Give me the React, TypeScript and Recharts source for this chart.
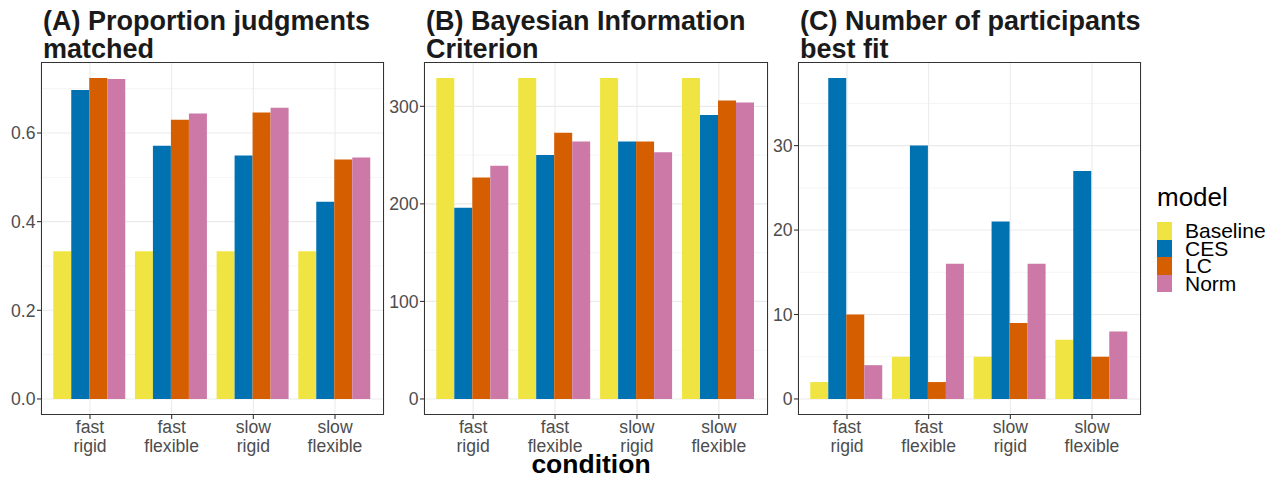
import React from 'react'
import { BarChart, Bar, XAxis, YAxis, CartesianGrid } from 'recharts'

const conditions = ['fast\nrigid', 'fast\nflexible', 'slow\nrigid', 'slow\nflexible']
const models = ['Baseline', 'CES', 'LC', 'Norm']
const modelColors = ['#F0E442', '#0072B2', '#D55E00', '#CC79A7']

// (A) proportion of judgments matched
const matchBaseline = [0.333, 0.333, 0.333, 0.333]
const matchCES = [0.697, 0.571, 0.549, 0.445]
const matchLC = [0.724, 0.63, 0.646, 0.54]
const matchNorm = [0.722, 0.644, 0.657, 0.545]
const matchTicks = [0, 0.2, 0.4, 0.6]
const matchMinor = [0.1, 0.3, 0.5, 0.7]

// (B) Bayesian information criterion
const bicBaseline = [329, 329, 329, 329]
const bicCES = [196, 250, 264, 291]
const bicLC = [227, 273, 264, 306]
const bicNorm = [239, 264, 253, 304]
const bicTicks = [0, 100, 200, 300]
const bicMinor = [50, 150, 250]

// (C) number of participants best fit
const fitBaseline = [2, 5, 5, 7]
const fitCES = [38, 30, 21, 27]
const fitLC = [10, 2, 9, 5]
const fitNorm = [4, 16, 16, 8]
const fitTicks = [0, 10, 20, 30]
const fitMinor = [5, 15, 25, 35]

const FONT = '"Liberation Sans", Arial, Helvetica, sans-serif'
const PLOT_TOP = 62
const PLOT_BOTTOM = 415
const H = 479

function toRows(series: number[][]) {
  return conditions.map((c, i) => {
    const row: Record<string, string | number> = { condition: c }
    models.forEach((m, j) => { row[m] = series[j][i] })
    return row
  })
}

function CondTick(props: any) {
  const { x, y, payload } = props
  const lines = String(payload.value).split('\n')
  return (
    <text x={x} y={y} textAnchor="middle" fill="#4D4D4D" fontSize={17.6} fontFamily={FONT}>
      {lines.map((l, i) => (
        <tspan key={i} x={x} dy={i === 0 ? 12 : 19}>{l}</tspan>
      ))}
    </text>
  )
}

interface PanelProps {
  left: number
  width: number
  plotLeft: number
  plotRight: number
  yWidth: number
  title: string[]
  series: number[][]
  ticks: number[]
  minor: number[]
  fmt: (v: number) => string
}

function Panel({ left, width, plotLeft, plotRight, yWidth, title, series, ticks, minor, fmt }: PanelProps) {
  const data = toRows(series)
  const max = Math.max(...series.flat())
  const plotW = plotRight - plotLeft
  const pad = (plotW * 0.1) / 4.2
  return (
    <>
      <div style={{ position: 'absolute', left: plotLeft + 2, top: 7, fontFamily: FONT, fontWeight: 'bold', fontSize: 27, lineHeight: '28px', color: '#1A1A1A', whiteSpace: 'nowrap' }}>
        {title.map((t, i) => <div key={i}>{t}</div>)}
      </div>
      <div style={{ position: 'absolute', left, top: 0 }}>
        <BarChart
          width={width}
          height={H}
          data={data}
          margin={{ top: PLOT_TOP, right: left + width - plotRight, bottom: H - PLOT_BOTTOM - 60, left: plotLeft - left - yWidth }}
          barCategoryGap="5%"
          barGap={0}
          style={{ fontFamily: FONT }}
        >
          <CartesianGrid stroke="#EBEBEB" strokeWidth={0.55} horizontalValues={minor} vertical={false} />
          <CartesianGrid stroke="#EBEBEB" strokeWidth={1.1} horizontalValues={ticks} />
          <XAxis
            dataKey="condition"
            interval={0}
            height={60}
            padding={{ left: pad, right: pad }}
            axisLine={false}
            tickLine={{ stroke: '#333333', strokeWidth: 1.1 }}
            tickSize={4}
            tickMargin={2}
            tick={<CondTick />}
          />
          <YAxis
            width={yWidth}
            domain={[-0.05 * max, 1.05 * max]}
            ticks={ticks}
            allowDataOverflow
            axisLine={false}
            tickLine={{ stroke: '#333333', strokeWidth: 1.1 }}
            tickSize={4}
            tickMargin={1.5}
            tickFormatter={fmt}
            tick={{ fill: '#4D4D4D', fontSize: 17.6, fontFamily: FONT }}
          />
          {models.map((m, j) => (
            <Bar key={m} dataKey={m} fill={modelColors[j]} isAnimationActive={false} />
          ))}
        </BarChart>
      </div>
      <div style={{ position: 'absolute', left: plotLeft, top: PLOT_TOP, width: plotW, height: PLOT_BOTTOM - PLOT_TOP, border: '1.1px solid #333333', boxSizing: 'border-box', pointerEvents: 'none' }} />
    </>
  )
}

export default function App() {
  return (
    <div style={{ position: 'absolute', left: 0, top: 0, width: 1277, height: H, background: '#fff', overflow: 'hidden' }}>
      <Panel
        left={0} width={392} plotLeft={41} plotRight={384} yWidth={38}
        title={['(A) Proportion judgments', 'matched']}
        series={[matchBaseline, matchCES, matchLC, matchNorm]}
        ticks={matchTicks} minor={matchMinor}
        fmt={(v) => v.toFixed(1)}
      />
      <Panel
        left={380} width={396} plotLeft={424} plotRight={768} yWidth={40}
        title={['(B) Bayesian Information', 'Criterion']}
        series={[bicBaseline, bicCES, bicLC, bicNorm]}
        ticks={bicTicks} minor={bicMinor}
        fmt={(v) => String(v)}
      />
      <Panel
        left={760} width={388} plotLeft={798} plotRight={1141} yWidth={34}
        title={['(C) Number of participants', 'best fit']}
        series={[fitBaseline, fitCES, fitLC, fitNorm]}
        ticks={fitTicks} minor={fitMinor}
        fmt={(v) => String(v)}
      />
      <div style={{ position: 'absolute', left: 391, width: 400, top: 452, textAlign: 'center', fontFamily: FONT, fontWeight: 'bold', fontSize: 26.5, lineHeight: '24px' }}>
        condition
      </div>
      <div style={{ position: 'absolute', left: 1157, top: 182, fontFamily: FONT, color: '#000' }}>
        <div style={{ fontSize: 26, lineHeight: '30px', marginBottom: 10 }}>model</div>
        {models.map((m, j) => (
          <div key={m} style={{ display: 'flex', alignItems: 'center', height: 17.6 }}>
            <div style={{ width: 15, height: 17.6, background: modelColors[j] }} />
            <span style={{ fontSize: 21, lineHeight: '17.6px', marginLeft: 13 }}>{m}</span>
          </div>
        ))}
      </div>
    </div>
  )
}
